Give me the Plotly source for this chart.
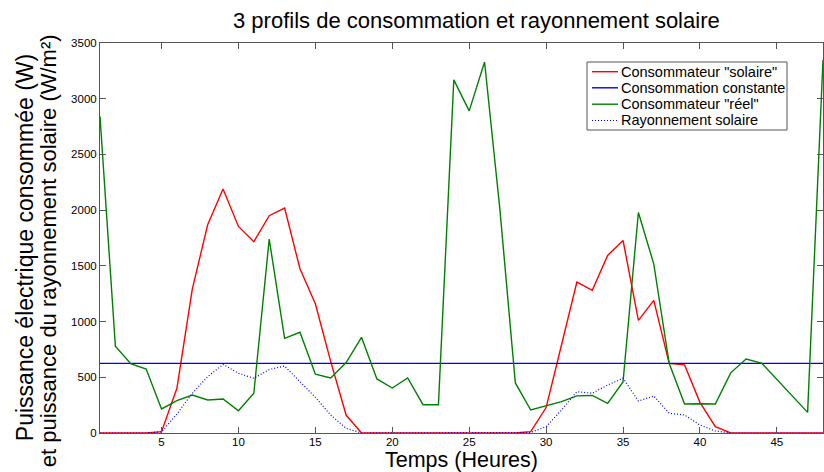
import plotly.graph_objects as go

hours = list(range(1, 49))

conso_solaire = [0, 0, 0, 0, 12, 401, 1292, 1869, 2189, 1854, 1717, 1950, 2019, 1474, 1160, 640,
                 161, 0, 0, 0, 0, 0, 0, 0, 0, 0, 0, 0, 12, 228, 790, 1354,
                 1280, 1594, 1728, 1011, 1190, 625, 611, 275, 57, 0, 0, 0, 0, 0, 0, 0]

conso_constante = [625] * 48

conso_reel = [2842, 778, 622, 574, 216, 290, 341, 296, 305, 200, 356, 1741, 850, 904, 528, 494,
              632, 859, 485, 404, 494, 254, 254, 3169, 2891, 3329, 2000, 449, 206, 243, 281, 333,
              337, 266, 458, 1979, 1516, 625, 260, 262, 260, 540, 664, 628, 478, 329, 185, 3349]

rayonnement = [0, 0, 0, 0, 10, 170, 356, 506, 615, 536, 491, 570, 601, 461, 320, 161,
               42, 0, 0, 0, 0, 0, 0, 0, 0, 0, 0, 0, 5, 57, 206, 371,
               356, 431, 491, 287, 332, 177, 162, 72, 18, 0, 0, 0, 0, 0, 0, 0]

x_ticks = [5, 10, 15, 20, 25, 30, 35, 40, 45]
y_ticks = [0, 500, 1000, 1500, 2000, 2500, 3000, 3500]

series_names = ['Consommateur "solaire"', "Consommation constante", 'Consommateur "réel"', "Rayonnement solaire"]
series_colors = ["#ff0000", "#0000ff", "#008000", "#0000ff"]
series_dash = ["solid", "solid", "solid", "1px,2px"]
series_width = [1.4, 1.4, 1.4, 1.2]
series_values = [conso_solaire, conso_constante, conso_reel, rayonnement]

FONT = "Arial, Liberation Sans, Helvetica, sans-serif"

# plot area in pixels
W, H = 824, 472
L, R, T, B = 100, 1, 43, 39
PW, PH = W - L - R, H - T - B


def px_x(p):
    return (p - L) / PW


def px_y(p):
    return (H - B - p) / PH


fig = go.Figure()
for name, vals, col, dash, lw in zip(series_names, series_values, series_colors, series_dash, series_width):
    fig.add_trace(go.Scatter(x=hours, y=vals, mode="lines", name=name,
                             line=dict(color=col, width=lw, dash=dash), showlegend=False))

axis_common = dict(showline=True, linecolor="#555555", linewidth=1, mirror="ticks",
                   ticks="inside", ticklen=6, tickcolor="#555555", showgrid=False, zeroline=False,
                   tickfont=dict(family=FONT, size=11.5, color="#000000"))

fig.update_xaxes(range=[1, 48], tickvals=x_ticks, ticktext=[str(v) for v in x_ticks],
                 ticklabelstandoff=-2, **axis_common)
fig.update_yaxes(range=[0, 3500], tickvals=y_ticks, ticktext=[str(v) for v in y_ticks], **axis_common)

# custom legend (box, samples, labels)
shapes = [dict(type="rect", xref="paper", yref="paper",
               x0=px_x(587), x1=px_x(787), y0=px_y(130), y1=px_y(62),
               line=dict(color="#555555", width=1), fillcolor="white", layer="above")]
annotations = []
legend_rows = [71.7, 87.8, 104.2, 120.5]
for name, col, dash, lw, ry in zip(series_names, series_colors, series_dash, series_width, legend_rows):
    shapes.append(dict(type="line", xref="paper", yref="paper",
                       x0=px_x(592), x1=px_x(618), y0=px_y(ry), y1=px_y(ry),
                       line=dict(color=col, width=lw, dash=dash), layer="above"))
    annotations.append(dict(text=name, xref="paper", yref="paper", x=px_x(619), y=px_y(ry),
                            xanchor="left", yanchor="middle", showarrow=False,
                            font=dict(family=FONT, size=14.5, color="#000000")))

annotations += [
    dict(text="3 profils de consommation et rayonnement solaire", xref="paper", yref="paper",
         x=0.5, xshift=15, y=1, yshift=23, xanchor="center", yanchor="middle", showarrow=False,
         font=dict(family=FONT, size=22, color="#000000")),
    dict(text="Temps (Heures)", xref="paper", yref="paper",
         x=0.5, y=0, yshift=-27, xanchor="center", yanchor="middle", showarrow=False,
         font=dict(family=FONT, size=21.5, color="#000000")),
    dict(text="Puissance électrique consommée (W)",
         xref="paper", yref="paper", x=0, xshift=-75, y=0.474, xanchor="center", yanchor="middle",
         textangle=-90, showarrow=False, font=dict(family=FONT, size=23, color="#000000")),
    dict(text="et puissance du rayonnement solaire (W/m²)",
         xref="paper", yref="paper", x=0, xshift=-52, y=0.466, xanchor="center", yanchor="middle",
         textangle=-90, showarrow=False, font=dict(family=FONT, size=22, color="#000000")),
]

fig.update_layout(
    width=W, height=H,
    margin=dict(l=L, r=R, t=T, b=B),
    paper_bgcolor="white", plot_bgcolor="white",
    font=dict(family=FONT, color="#000000"),
    showlegend=False,
    shapes=shapes,
    annotations=annotations,
)

fig.write_html("out.html", config={"displayModeBar": False},
               post_script="document.body.style.margin='0';document.body.style.padding='0';")
